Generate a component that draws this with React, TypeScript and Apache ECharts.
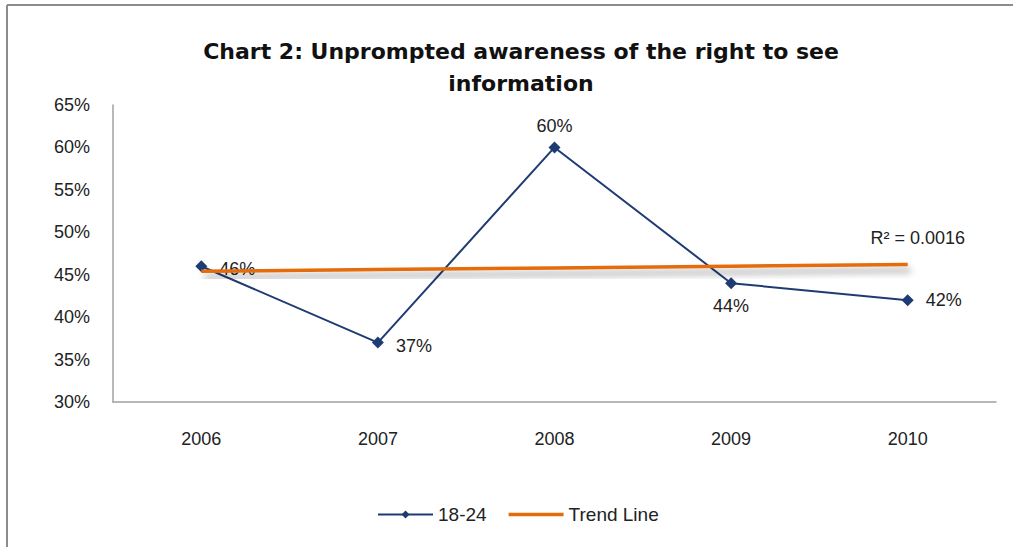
import React, { useEffect, useRef } from "react";
import * as echarts from "echarts";

const categories = ["2006", "2007", "2008", "2009", "2010"];
const age1824 = [46, 37, 60, 44, 42];
const trendLine = [45.4, 45.6, 45.8, 46.0, 46.2];
const yTicks = [30, 35, 40, 45, 50, 55, 60, 65];
const rSquaredText = "R² = 0.0016";
const titleText = "Chart 2: Unprompted awareness of the right to see\ninformation";

const FONT = "'Liberation Sans Narrow', 'Liberation Sans', Arial, sans-serif";

export default function App() {
  const ref = useRef<HTMLDivElement>(null);
  useEffect(() => {
    if (!ref.current) return;
    const chart = echarts.init(ref.current, null, { renderer: "svg" });
    const labelPos = ["right", "right", "top", "bottom", "right"];
    const last = trendLine.length - 1;
    chart.setOption({
      animation: false,
      backgroundColor: "#ffffff",
      title: {
        text: titleText,
        left: 516,
        top: 30,
        textAlign: "center",
        textStyle: {
          fontFamily: "'DejaVu Sans', sans-serif",
          fontWeight: "bold",
          fontSize: 22,
          lineHeight: 32,
          color: "#111",
        },
      },
      graphic: [
        { type: "line", shape: { x1: 7, y1: 5, x2: 1013, y2: 5 }, style: { stroke: "#8c8c8c", lineWidth: 2 } },
        { type: "line", shape: { x1: 7, y1: 5, x2: 7, y2: 547 }, style: { stroke: "#8c8c8c", lineWidth: 2 } },
      ],
      grid: { left: 113, right: 17, top: 105, bottom: 145 },
      legend: {
        bottom: 18,
        left: 372,
        itemWidth: 55,
        itemHeight: 10,
        itemGap: 22,
        textStyle: { fontFamily: FONT, fontSize: 19, color: "#222" },
        data: [
          { name: "18-24" },
          { name: "Trend Line", icon: "path://M0,0 L55,0 L55,3.5 L0,3.5 Z" },
        ],
      },
      xAxis: {
        type: "category",
        data: categories,
        boundaryGap: true,
        axisLine: { lineStyle: { color: "#a0a0a0", width: 1.5 } },
        axisTick: { show: false },
        axisLabel: { fontFamily: FONT, fontSize: 18, color: "#222", margin: 28 },
      },
      yAxis: {
        type: "value",
        min: yTicks[0],
        max: yTicks[yTicks.length - 1],
        interval: 5,
        axisLine: { show: true, lineStyle: { color: "#a0a0a0", width: 1.5 } },
        axisTick: { show: false },
        splitLine: { show: false },
        axisLabel: { fontFamily: FONT, fontSize: 18, color: "#222", margin: 23, formatter: "{value}%" },
      },
      series: [
        {
          name: "Trend Line",
          type: "line",
          data: trendLine,
          symbol: "none",
          z: 3,
          lineStyle: {
            color: "#E46C0A",
            width: 3.5,
            shadowColor: "rgba(0,0,0,0.4)",
            shadowBlur: 7,
            shadowOffsetX: 3,
            shadowOffsetY: 6,
          },
          itemStyle: { color: "#E46C0A" },
          markPoint: {
            symbol: "circle",
            symbolSize: 0,
            data: [
              {
                coord: [categories[last], trendLine[last]],
                label: {
                  show: true,
                  position: "top",
                  distance: 18,
                  offset: [10, 0],
                  formatter: rSquaredText,
                  fontFamily: FONT,
                  fontSize: 18,
                  color: "#222",
                },
              },
            ],
          },
        },
        {
          name: "18-24",
          type: "line",
          z: 2,
          data: age1824.map((v, i) => ({
            value: v,
            label: {
              show: true,
              position: labelPos[i],
              distance: i === 2 ? 6 : i === 3 ? 8 : 12,
              offset: i === 0 || i === 1 ? [0, 3] : [0, 0],
            },
          })),
          symbol: "diamond",
          symbolSize: 12,
          lineStyle: { color: "#1F3B73", width: 2 },
          itemStyle: { color: "#1F3B73" },
          label: {
            formatter: "{c}%",
            fontFamily: FONT,
            fontSize: 18,
            color: "#222",
          },
        },
      ],
    });
    return () => chart.dispose();
  }, []);
  return (
    <div
      ref={ref}
      style={{ position: "fixed", left: 0, top: 0, width: 1013, height: 547 }}
    />
  );
}
